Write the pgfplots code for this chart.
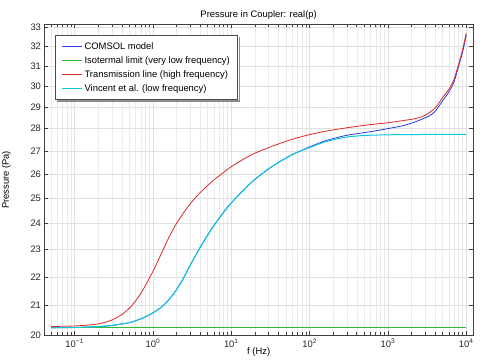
\documentclass[border=0pt]{standalone}
\usepackage{fontspec}
\setmainfont{Liberation Sans}
\usepackage{pgfplots}
\pgfplotsset{compat=1.18}
\definecolor{cblue}{RGB}{40,60,230}
\definecolor{cgreen}{RGB}{50,185,50}
\definecolor{cred}{RGB}{220,40,40}
\definecolor{ccyan}{RGB}{10,200,225}
\begin{document}
\fontsize{9.4}{11}\selectfont
\begin{tikzpicture}
\begin{axis}[
  name=ax,
  scale only axis, width=428.7pt, height=311.2pt,
  xmode=log, ymode=log,
  xmin=0.0409, xmax=12210, ymin=20, ymax=33.18,
  xtick={0.1,1,10,100,1000,10000},
  xticklabels={10\textsuperscript{−1},10\textsuperscript{0},10\textsuperscript{1},10\textsuperscript{2},10\textsuperscript{3},10\textsuperscript{4}},
  minor xtick={0.05,0.06,0.07,0.08,0.09,0.2,0.3,0.4,0.5,0.6,0.7,0.8,0.9,2,3,4,5,6,7,8,9,20,30,40,50,60,70,80,90,200,300,400,500,600,700,800,900,2000,3000,4000,5000,6000,7000,8000,9000},
  ytick={20,21,22,23,24,25,26,27,28,29,30,31,32,33},
  yticklabels={20,21,22,23,24,25,26,27,28,29,30,31,32,33},
  yminorticks=false,
  grid=both,
  major grid style={color=black!12, line width=0.5pt},
  minor grid style={color=black!8, line width=0.5pt},
  tick align=inside,
  major tick length=4pt, minor tick length=3pt,
  every tick/.style={color=black!75, line width=0.6pt},
  axis line style={color=black!75, line width=0.8pt},
  ticklabel style={font=\fontsize{9.4}{11}\selectfont, color=black!85},
  title={Pressure in Coupler: real(p)},
  title style={at={(axis description cs:0.5,1)}, anchor=south, yshift=-5pt, font=\fontsize{9.4}{11}\selectfont},
  xlabel={f (Hz)},
  xlabel style={at={(axis description cs:0.5,0)}, anchor=center, yshift=-16.5pt, font=\fontsize{9.4}{11}\selectfont},
  ylabel={Pressure (Pa)},
  ylabel style={at={(axis description cs:-0.0886,0.5)}, anchor=center, font=\fontsize{9.4}{11}\selectfont},
  legend cell align=left,
  legend image code/.code={\draw[#1, line width=1.2pt] (0pt,0pt) -- (20pt,0pt);},
  legend style={at={(0,1)}, anchor=north west, xshift=10.7pt, yshift=-10.7pt,
    name=leg,
    draw=black!70, line width=0.8pt, fill=white,
    inner xsep=6pt, inner ysep=5pt, row sep=1.8pt,
    font=\fontsize{9.4}{11}\selectfont},
]
% COMSOL model
\addplot[cblue, line width=0.8pt, smooth] coordinates {
(0.05,20.25)(0.1,20.26)(0.2,20.29)(0.3,20.33)(0.5,20.42)(0.7,20.55)(0.9,20.68)(1.0,20.75)(1.3,20.96)(1.6,21.2)(2.0,21.55)(2.5,22.0)(3.0,22.43)(4.0,23.08)(5.0,23.55)(6.0,23.92)(7.0,24.2)(9.0,24.65)(12,25.08)(15,25.4)(20,25.78)(25,26.03)(30,26.23)(40,26.5)(60,26.84)(80,27.03)(100,27.18)(150,27.42)(200,27.55)(300,27.7)(500,27.82)(700,27.9)(1000,28.0)(1500,28.12)(2000,28.25)(2500,28.38)(3000,28.5)(3500,28.62)(4000,28.8)(4600,29.1)(5000,29.3)(6000,29.72)(7000,30.22)(8000,31.0)(9000,31.72)(10000,32.6)
};
\addlegendentry{COMSOL model}
% Isothermal
\addplot[cgreen, line width=0.8pt] coordinates {(0.05,20.255)(10000,20.255)};
\addlegendentry{Isotermal limit (very low frequency)}
% Transmission line
\addplot[cred, line width=0.8pt, smooth] coordinates {
(0.05,20.29)(0.07,20.30)(0.1,20.31)(0.15,20.34)(0.2,20.38)(0.25,20.44)(0.3,20.51)(0.4,20.69)(0.5,20.91)(0.6,21.16)(0.7,21.42)(0.8,21.69)(0.9,21.96)(1.0,22.2)(1.2,22.68)(1.4,23.1)(1.6,23.47)(2.0,24.0)(2.5,24.45)(3.0,24.78)(3.5,25.03)(4.0,25.23)(5.0,25.53)(6.0,25.76)(8.0,26.08)(10,26.32)(15,26.68)(20,26.9)(30,27.15)(40,27.31)(60,27.52)(100,27.73)(150,27.86)(200,27.94)(300,28.04)(500,28.15)(700,28.21)(1000,28.27)(1500,28.36)(2000,28.43)(2500,28.5)(3000,28.62)(3500,28.78)(4000,28.95)(4600,29.25)(5000,29.45)(6000,29.85)(7000,30.35)(8000,31.1)(9000,31.85)(10000,32.7)
};
\addlegendentry{Transmission line (high frequency)}
% Vincent et al.
\addplot[ccyan, line width=1pt, smooth] coordinates {
(0.05,20.25)(0.1,20.26)(0.2,20.29)(0.3,20.33)(0.5,20.42)(0.7,20.55)(0.9,20.68)(1.0,20.75)(1.3,20.96)(1.6,21.2)(2.0,21.55)(2.5,22.0)(3.0,22.43)(4.0,23.08)(5.0,23.55)(6.0,23.92)(7.0,24.2)(9.0,24.65)(12,25.08)(15,25.4)(20,25.78)(25,26.03)(30,26.23)(40,26.5)(60,26.84)(80,27.03)(100,27.15)(150,27.38)(200,27.5)(300,27.62)(500,27.69)(1000,27.72)(2000,27.73)(5000,27.74)(10000,27.74)
};
\addlegendentry{Vincent et al. (low frequency)}
\end{axis}
\fill[black!45] ([xshift=1.6pt,yshift=-0.4pt]leg.south west) rectangle ([xshift=1.8pt,yshift=-2pt]leg.south east);
\fill[black!45] ([xshift=0.4pt,yshift=-1.6pt]leg.north east) rectangle ([xshift=1.8pt,yshift=-2pt]leg.south east);
\pgfresetboundingbox
\path[use as bounding box] ([xshift=-44.3pt,yshift=-24.5pt]ax.south west) rectangle ([xshift=13pt,yshift=24.3pt]ax.north east);
\end{tikzpicture}
\end{document}
